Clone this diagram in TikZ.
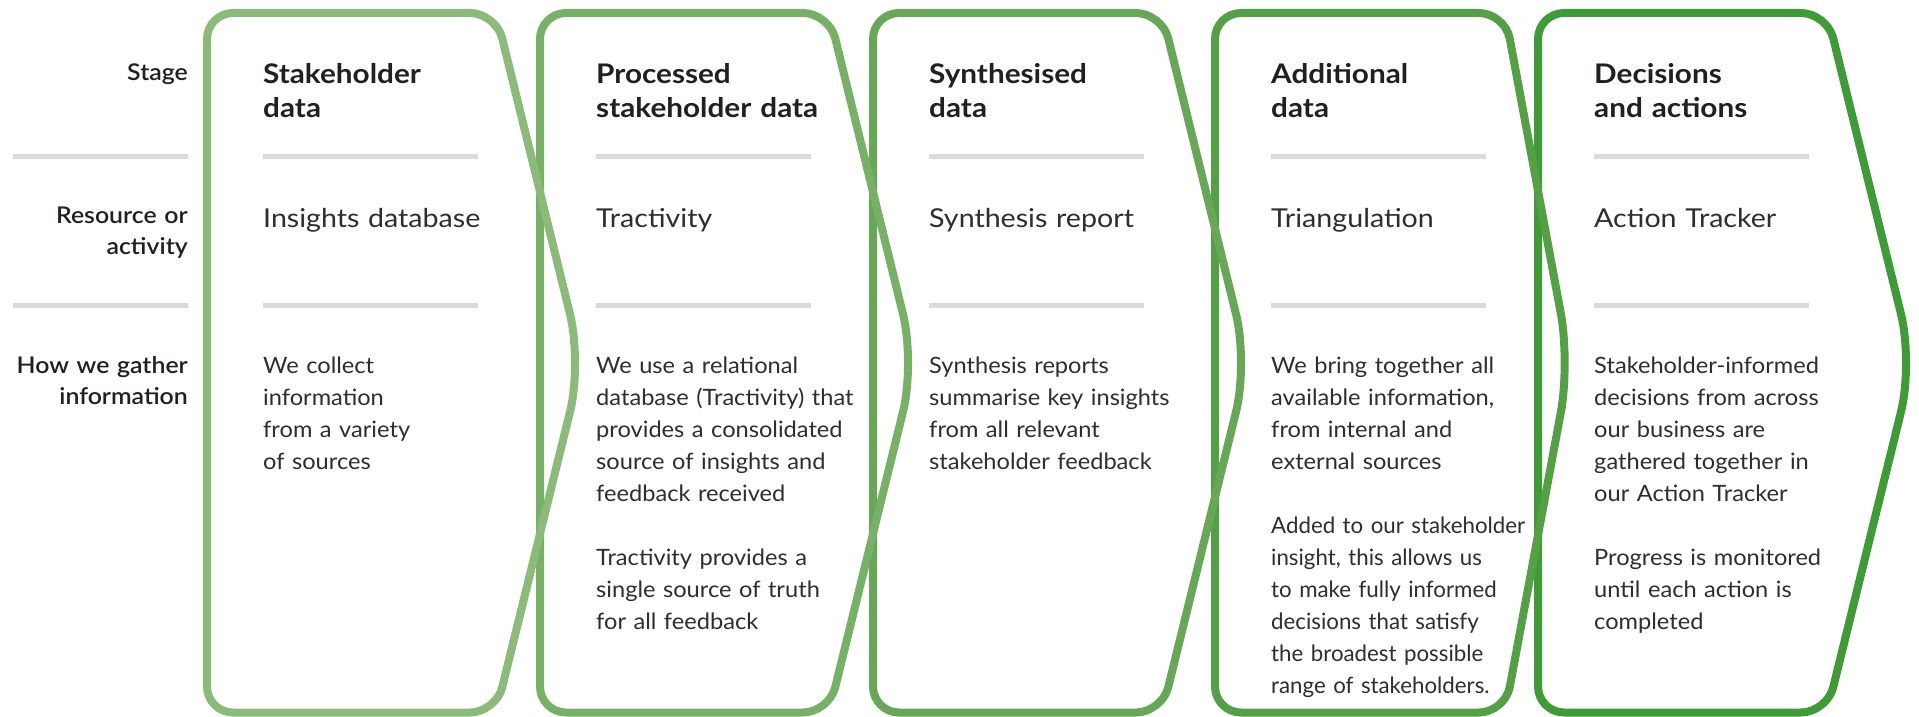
\documentclass[tikz,border=0pt]{standalone}
\usepackage{fontspec}
\setmainfont{Lato}[FakeStretch=1.1]
\newfontfamily\bodyf{Lato}[FakeStretch=1.05]
\newfontfamily\bodycondf{Lato}[FakeStretch=0.99]
\newfontfamily\midf{Lato}[FakeStretch=1.1]
\newfontfamily\semif{Lato Semibold}[FakeStretch=1.08]
\definecolor{gA}{HTML}{8BBA7B}
\definecolor{gB}{HTML}{79B068}
\definecolor{gC}{HTML}{68A758}
\definecolor{gD}{HTML}{55A046}
\definecolor{gE}{HTML}{419A38}
\definecolor{sepgray}{HTML}{D9DADC}
\definecolor{headc}{HTML}{231F20}
\definecolor{bodyc}{HTML}{2E2E2E}
\tikzset{
  chevline/.style={line width=8pt, rounded corners=26pt},
  sepline/.style={line width=5pt, sepgray},
  rowlabel/.style={inner sep=0pt, anchor=base east, text width=180pt, align=right, text=headc,
    font=\semif\fontsize{23}{31}\selectfont},
  headtxt/.style={inner sep=0pt, anchor=base west, text width=300pt, align=left, text=headc,
    font=\bfseries\fontsize{27}{34}\selectfont},
  midtxt/.style={inner sep=0pt, anchor=base west, text width=300pt, align=left, text=bodyc,
    font=\midf\fontsize{26}{32}\selectfont},
  bodytxt/.style={inner sep=0pt, anchor=base west, text width=300pt, align=left, text=bodyc,
    font=\bodyf\fontsize{22.5}{32}\selectfont},
}
\newcommand\chevshape[4]{%
  \draw[chevline, #4] (#1,363) -- (#1,13) -- (#2,13) [rounded corners=50pt] -- (#3,363) [rounded corners=26pt] -- (#2,712.5) -- (#1,712.5) -- cycle;
  \draw[sepline] (#1+56,156) -- (#1+271,156);
  \draw[sepline] (#1+56,305) -- (#1+271,305);
}
\begin{document}
\begin{tikzpicture}[x=1pt,y=-1pt]
\useasboundingbox[fill=white] (0,0) rectangle (1919,717);
% row labels
\node[rowlabel] (lstage) at (188,80.7) {Stage};
\node[rowlabel] (lres) at (188,223) {Resource or\\activity};
\node[rowlabel] (lhow) at (188,373) {How we gather\\information};
\draw[sepline] (13,156) -- (188,156);
\draw[sepline] (13,305) -- (188,305);
% chevrons (drawn right to left so that each lighter one lies on top)
\chevshape{1538}{1827}{1913}{gE}
\chevshape{1215}{1505}{1570}{gD}
\chevshape{873}{1162}{1248}{gC}
\chevshape{540}{829}{915}{gB}
\chevshape{207}{496}{582}{gA}
% column 1
\node[headtxt] (h1) at (263,83) {Stakeholder\\data};
\node[midtxt] (m1) at (263,227) {Insights database};
\node[bodytxt] (b1) at (263,373) {We collect\\information\\from a variety\\of sources};
% column 2
\node[headtxt] (h2) at (596,83) {Processed\\stakeholder data};
\node[midtxt] (m2) at (596,227) {Tractivity};
\node[bodytxt] (b2) at (596,373) {We use a relational\\database (Tractivity) that\\provides a consolidated\\source of insights and\\feedback received\\[32pt]Tractivity provides a\\single source of truth\\for all feedback};
% column 3
\node[headtxt] (h3) at (929,83) {Synthesised\\data};
\node[midtxt] (m3) at (929,227) {Synthesis report};
\node[bodytxt] (b3) at (929,373) {Synthesis reports\\summarise key insights\\from all relevant\\stakeholder feedback};
% column 4
\node[headtxt] (h4) at (1271,83) {Additional\\data};
\node[midtxt] (m4) at (1271,227) {Triangulation};
\node[bodytxt] (b4) at (1271,373) {We bring together all\\available information,\\from internal and\\external sources\\[32pt]{\bodycondf Added to our stakeholder}\\{\bodycondf insight, this allows us}\\{\bodycondf to make fully informed}\\{\bodycondf decisions that satisfy}\\{\bodycondf the broadest possible}\\{\bodycondf range of stakeholders.}};
% column 5
\node[headtxt] (h5) at (1594,83) {Decisions\\and actions};
\node[midtxt] (m5) at (1594,227) {Action Tracker};
\node[bodytxt] (b5) at (1594,373) {Stakeholder-informed\\decisions from across\\our business are\\gathered together in\\our Action Tracker\\[32pt]Progress is monitored\\until each action is\\completed};
\end{tikzpicture}
\end{document}
